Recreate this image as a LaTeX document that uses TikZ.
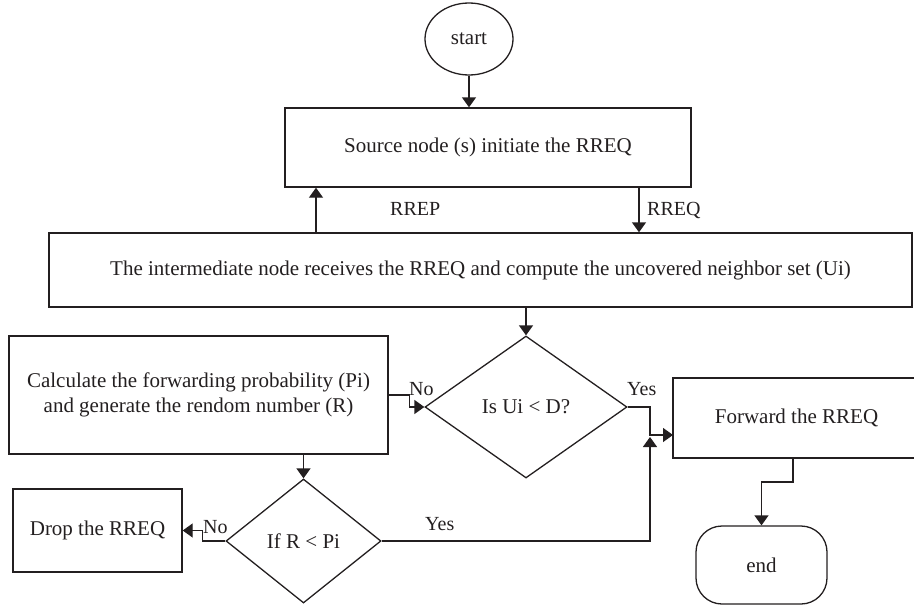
\documentclass[tikz,border=0pt]{standalone}
\usepackage{fontspec}
\setmainfont{Liberation Serif}
\usetikzlibrary{shapes.geometric,arrows.meta}
\definecolor{ink}{HTML}{231F20}
\begin{document}
\begin{tikzpicture}[x=1pt,y=-1pt,
  every node/.style={text=ink, font=\fontsize{21}{25}\selectfont},
  flowbox/.style={draw=ink, line width=1.4pt, rectangle, inner sep=0pt, align=center},
  decision/.style={draw=ink, line width=1.3pt, diamond, inner sep=0pt},
  terminal/.style={draw=ink, line width=1.3pt, inner sep=0pt},
  conn/.style={draw=ink, line width=1.4pt, -{Triangle[length=10pt,width=14pt]}},
  lbl/.style={font=\fontsize{20}{23}\selectfont, inner sep=0pt, anchor=base west}]
\useasboundingbox (0,0) rectangle (914,605);
\clip (0,0) rectangle (914,605);

% process steps
\node[terminal, ellipse, minimum width=88pt, minimum height=72pt] (start) at (469,39) {start};
\node[flowbox, minimum width=406pt, minimum height=79pt] (src) at (488,147.5) {Source node (s) initiate the RREQ};
\node[flowbox, minimum width=863pt, minimum height=74pt] (inter) at (480.5,270)
  {The intermediate node receives the RREQ and compute the uncovered neighbor set (Ui)};
\node[flowbox, minimum width=379pt, minimum height=118pt] (calc) at (198.5,395)
  {Calculate the forwarding probability (Pi)\\and generate the rendom number (R)};
\node[decision, minimum width=202pt, minimum height=142pt] (d1) at (526,407) {Is Ui < D?};
\node[flowbox, minimum width=247pt, minimum height=80pt] (fwd) at (796.5,418) {Forward the RREQ};
\node[decision, minimum width=155pt, minimum height=124pt] (d2) at (303.5,541) {If R < Pi};
\node[flowbox, minimum width=169pt, minimum height=83pt] (drop) at (97.5,530.5) {Drop the RREQ};
\node[terminal, rectangle, rounded corners=26pt, minimum width=131pt, minimum height=78pt] (end) at (761.5,565) {end};

% helper coordinates for bends
\coordinate (rrepx) at (316,0);
\coordinate (rreqx) at (639,0);
\coordinate (yx) at (650,0);
\coordinate (fwdin) at (673,435);
\coordinate (yesup) at (650,437);
\coordinate (fwdout) at (793,0);
\coordinate (endturn) at (0,482);

% connectors
\draw[conn] (start.south) -- (start.south |- src.north);
\draw[conn] (inter.north -| rrepx) -- (src.south -| rrepx);
\draw[conn] (src.south -| rreqx) -- (inter.north -| rreqx);
\draw[conn] (d1.north |- inter.south) -- (d1.north);
\draw[conn] (calc.east) -- ++(21,0) |- (d1.west);
\draw[conn] (d1.east) -- (d1.east -| yx) |- (fwdin);
\draw[conn] (d2.east) -| (yesup);
\draw[conn] (d2.north |- calc.south) -- (d2.north);
\draw[conn] (d2.west) -- ++(-23,0) |- (drop.east);
\draw[conn] (fwd.south -| fwdout) -- (fwdout |- endturn) -| (end.north);

% connector labels
\node[lbl] (rrep) at (390,215) {RREP};
\node[lbl] (rreq) at (647,215) {RREQ};
\node[lbl] (no1) at (409,395) {No};
\node[lbl] (yes1) at (627,395) {Yes};
\node[lbl] (no2) at (203,533) {No};
\node[lbl] (yes2) at (425,530) {Yes};
\end{tikzpicture}
\end{document}
